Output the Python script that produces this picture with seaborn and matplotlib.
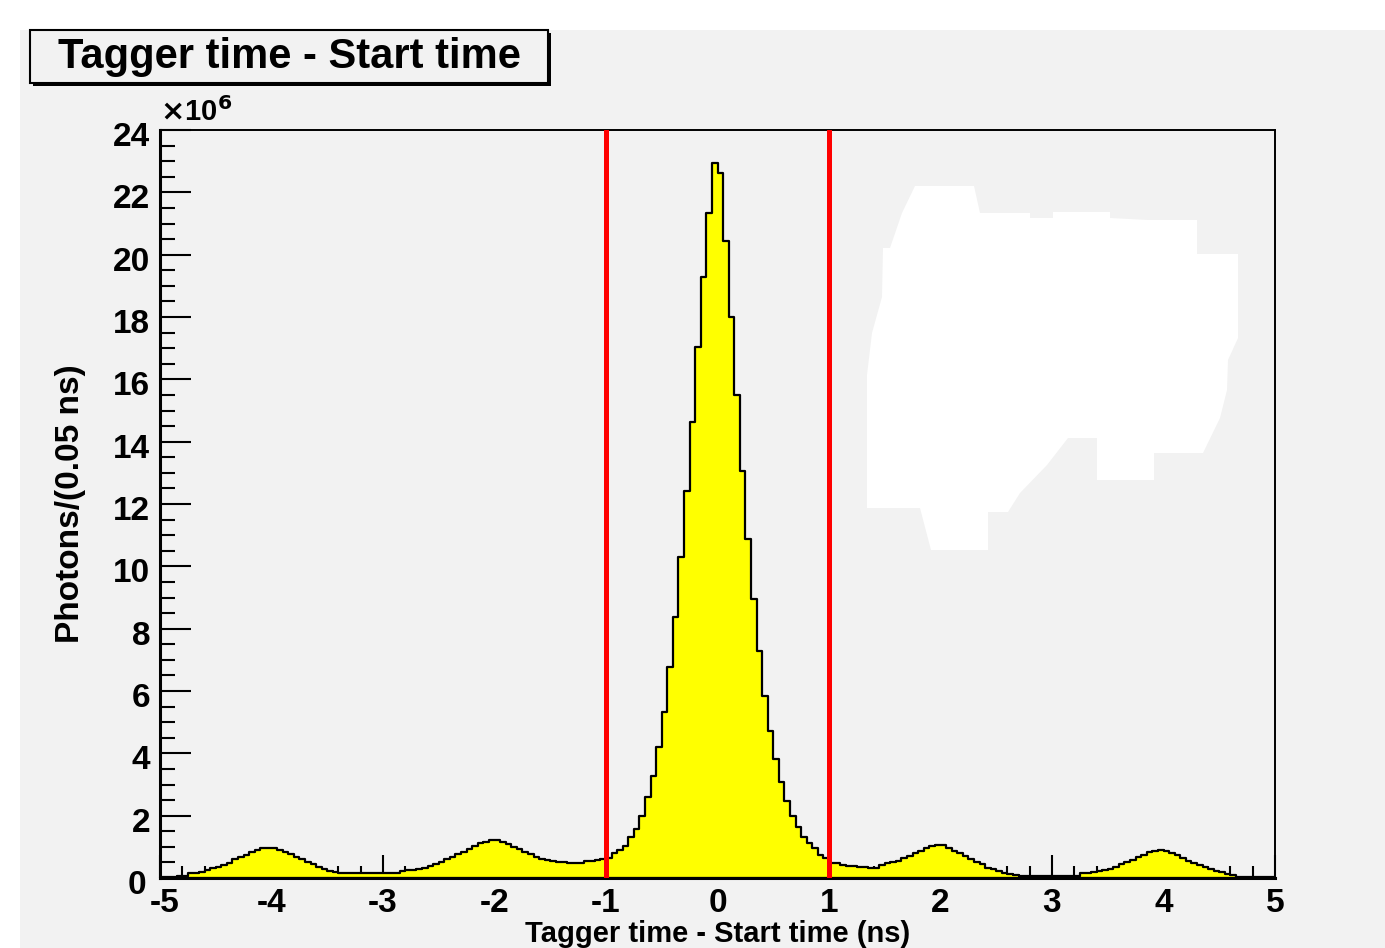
import numpy as np
import pandas as pd
import seaborn as sns
import matplotlib.pyplot as plt
import matplotlib.transforms as mtransforms
from matplotlib.patches import Rectangle, Polygon
from matplotlib.ticker import MultipleLocator

# ---- data: photons per 0.05 ns bin, in units of 1e6, from -5 ns to +5 ns ----

bin_lo, bin_hi, n_bins = -5.0, 5.0, 200

# -5.00 ... -1.05 ns (side bunches at -4 and -2)
left_counts = [
    0.02, 0.03, 0.04, 0.05, 0.08,
    0.17, 0.17, 0.20, 0.26, 0.31, 0.36, 0.42, 0.49, 0.60, 0.66, 0.74, 0.82, 0.90,
    0.96, 0.97, 0.96, 0.90, 0.82, 0.76, 0.68, 0.60, 0.52, 0.45, 0.36, 0.29, 0.22, 0.19,
    0.16, 0.16, 0.15, 0.15, 0.15, 0.15, 0.15, 0.16, 0.16, 0.17, 0.17,
    0.21, 0.25, 0.26, 0.30, 0.32, 0.38, 0.45, 0.52, 0.61, 0.68, 0.76, 0.84, 0.92,
    1.03, 1.11, 1.17, 1.22, 1.22, 1.17, 1.09, 1.00, 0.92, 0.84, 0.77, 0.68, 0.61,
    0.59, 0.53, 0.52, 0.51, 0.47, 0.47, 0.47, 0.55, 0.56, 0.57, 0.60,
]

# -1.00 ... +1.00 ns (prompt peak)
peak_counts = [
    0.63, 0.79, 0.90, 1.03, 1.31, 1.56, 2.00, 2.59, 3.28, 4.19,
    5.34, 6.76, 8.36, 10.30, 12.42, 14.64, 17.03, 19.29, 21.35, 22.95,
    22.63, 20.44, 18.01, 15.49, 13.06, 10.88, 8.94, 7.28, 5.85, 4.72,
    3.81, 3.07, 2.47, 2.00, 1.63, 1.31, 1.11, 0.95, 0.74, 0.63,
    0.49,
]

# +1.05 ... +4.95 ns (side bunches at +2 and +4)
right_counts = [
    0.47, 0.42, 0.38, 0.38, 0.36, 0.34, 0.31, 0.31, 0.42, 0.47, 0.50, 0.56, 0.63,
    0.71, 0.79, 0.87, 0.97, 1.04, 1.06, 1.06, 0.97, 0.88, 0.79, 0.71, 0.60, 0.52,
    0.45, 0.33, 0.28, 0.22, 0.17, 0.13, 0.10,
    0.08, 0.08, 0.07, 0.07, 0.07, 0.06, 0.06, 0.06, 0.06, 0.06, 0.07,
    0.15, 0.15, 0.18, 0.22, 0.25, 0.28, 0.34, 0.44, 0.50, 0.58, 0.66, 0.74, 0.82,
    0.86, 0.90, 0.86, 0.79, 0.73, 0.63, 0.56, 0.49, 0.42, 0.34, 0.28, 0.22, 0.18,
    0.14, 0.10,
    0.04, 0.04, 0.04, 0.04, 0.04, 0.03, 0.02,
]

cut_times = [-1, 1]
x_ticks = [-5, -4, -3, -2, -1, 0, 1, 2, 3, 4, 5]
y_ticks = [0, 2, 4, 6, 8, 10, 12, 14, 16, 18, 20, 22, 24]

counts = np.array(left_counts + peak_counts + right_counts)
assert len(counts) == n_bins
edges = np.linspace(bin_lo, bin_hi, n_bins + 1)
df = pd.DataFrame({'t': 0.5 * (edges[:-1] + edges[1:]), 'photons': counts})

# ---- style ----

sns.set_style('ticks')
plt.rcParams['font.family'] = ['Liberation Sans', 'DejaVu Sans']
plt.rcParams['font.weight'] = 'bold'
plt.rcParams['axes.unicode_minus'] = False
plt.rcParams['text.color'] = 'black'
plt.rcParams['axes.labelcolor'] = 'black'
plt.rcParams['xtick.color'] = 'black'
plt.rcParams['ytick.color'] = 'black'

bg = '#f2f2f2'
fig = plt.figure(figsize=(13.85, 9.48), dpi=100, facecolor='white')
fig.patches.append(Rectangle((20 / 1385, 0), 1, 1 - 30 / 948, transform=fig.transFigure,
                             facecolor=bg, edgecolor='none', zorder=-10))

ax = fig.add_axes([160 / 1385, 1 - 878 / 948, 1115 / 1385, 748 / 948])
ax.set_facecolor(bg)

sns.histplot(data=df, x='t', weights='photons', bins=n_bins, binrange=(bin_lo, bin_hi),
             element='step', fill=True, facecolor='yellow', edgecolor='black',
             alpha=1, linewidth=1.6, ax=ax)

for t in cut_times:
    ax.axvline(t, color='red', lw=3.6, zorder=5)

# blanked-out region of the original picture (white patch, upper right)
blob = [(915, 186), (974, 186), (980, 213), (1030, 213), (1030, 218), (1053, 218),
        (1053, 212), (1110, 212), (1110, 218), (1148, 220), (1197, 220), (1197, 254),
        (1238, 254), (1238, 338), (1228, 360), (1227, 390), (1220, 418), (1203, 453),
        (1154, 453), (1154, 480), (1097, 480), (1097, 438), (1068, 438), (1047, 465),
        (1020, 493), (1008, 512), (988, 512), (988, 550), (931, 550), (920, 508),
        (867, 508), (867, 375), (872, 333), (882, 297), (883, 248), (890, 248), (902, 213)]
blob_ax = [((px - 160) / 1115, (878 - py) / 748) for px, py in blob]
ax.add_patch(Polygon(blob_ax, closed=True, transform=ax.transAxes,
                     facecolor='white', edgecolor='none', zorder=3))

ax.set_xlim(bin_lo, bin_hi)
ax.set_ylim(0, 24)
ax.set_xticks(x_ticks)
ax.set_yticks(y_ticks)
ax.xaxis.set_minor_locator(MultipleLocator(0.2))
ax.yaxis.set_minor_locator(MultipleLocator(0.5))
ax.tick_params(axis='both', which='both', direction='in', colors='black',
               labelsize=24, top=False, right=False)
ax.tick_params(axis='x', which='major', length=16.5, width=1.5, pad=7)
ax.tick_params(axis='x', which='minor', length=8.5, width=1.5)
ax.tick_params(axis='y', which='major', length=22, width=1.5, pad=7)
ax.tick_params(axis='y', which='minor', length=11, width=1.5)

# ROOT puts the y labels a little below their ticks
shift_down = mtransforms.ScaledTranslation(0, -4 / 100, fig.dpi_scale_trans)
ylabs = ax.get_yticklabels()
xlabs = ax.get_xticklabels()
for lab in ylabs:
    lab.set_fontweight('bold')
    lab.set_transform(lab.get_transform() + shift_down)
for lab in xlabs:
    lab.set_fontweight('bold')
# keep the corner labels "0" and "-5" from running into each other
ylabs[0].set_transform(ylabs[0].get_transform()
                       + mtransforms.ScaledTranslation(-4 / 100, 0, fig.dpi_scale_trans))
xlabs[0].set_transform(xlabs[0].get_transform()
                       + mtransforms.ScaledTranslation(5 / 100, 0, fig.dpi_scale_trans))

for side in ['left', 'bottom']:
    ax.spines[side].set_linewidth(2.2)
for side in ['top', 'right']:
    ax.spines[side].set_linewidth(1.4)
for s in ax.spines.values():
    s.set_color('black')

ax.set_xlabel('Tagger time - Start time (ns)', fontsize=21, fontweight='bold', va='bottom')
ax.xaxis.set_label_coords(0.5, (878 - 947.5) / 748)
ax.set_ylabel('Photons/(0.05 ns)', fontsize=24, fontweight='bold')
ax.yaxis.set_label_coords(-0.066, 0.5)

ax.text(0.0, 1.004, r'$\times$10$^{6}$', transform=ax.transAxes, ha='left', va='bottom',
        fontsize=21, fontweight='bold')

# title box with ROOT-like shadow
fig.patches.append(Rectangle((33 / 1385, 1 - 86 / 948), 518 / 1385, 53 / 948,
                             transform=fig.transFigure, facecolor='black',
                             edgecolor='none', zorder=1))
fig.patches.append(Rectangle((30 / 1385, 1 - 83 / 948), 518 / 1385, 53 / 948,
                             transform=fig.transFigure, facecolor=bg,
                             edgecolor='black', linewidth=1.5, zorder=2))
fig.text(289 / 1385, 1 - 57 / 948, 'Tagger time - Start time', ha='center', va='center',
         fontsize=30, fontweight='bold', color='black', zorder=3)

fig.savefig('out.png', dpi=100, facecolor=fig.get_facecolor())
